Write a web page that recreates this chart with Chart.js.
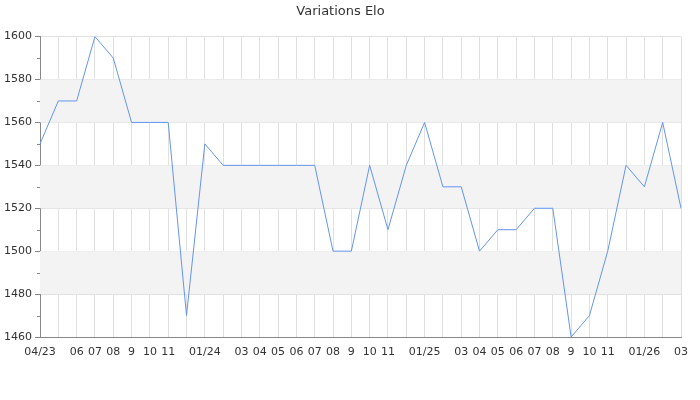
<!DOCTYPE html>
<html>
<head>
<meta charset="utf-8">
<script src="https://cdn.jsdelivr.net/npm/chart.js@4"></script>
<style>
  html, body { margin: 0; padding: 0; background: #fff; }
  #wrap { width: 700px; height: 400px; }
</style>
</head>
<body>
<div id="wrap"><canvas id="eloChart"></canvas></div>
<script>
// months from 04/23 to 03/26
var months = ["04/23","05","06","07","08","9","10","11","12","01/24","02","03",
              "04","05","06","07","08","9","10","11","12","01/25","02","03",
              "04","05","06","07","08","9","10","11","12","01/26","02","03"];
// labels actually printed under the axis (some are skipped)
var tickLabels = ["04/23","","06","07","08","9","10","11","","01/24","","03",
                  "04","05","06","07","08","9","10","11","","01/25","","03",
                  "04","05","06","07","08","9","10","11","","01/26","","03"];
var elo = [1550,1570,1570,1600,1590,1560,1560,1560,1470,1550,1540,1540,
           1540,1540,1540,1540,1500,1500,1540,1510,1540,1560,1530,1530,
           1500,1510,1510,1520,1520,1460,1470,1500,1540,1530,1560,1520];
var yMin = 1460, yMax = 1600;
var bands = [[1480,1500],[1520,1540],[1560,1580]];

var bandsPlugin = {
  id: 'bands',
  beforeDatasetsDraw: function (chart) {
    var ctx = chart.ctx, y = chart.scales.y, area = chart.chartArea;
    ctx.save();
    ctx.fillStyle = '#f3f3f3';
    for (var i = 0; i < bands.length; i++) {
      var top = y.getPixelForValue(bands[i][1]);
      var bot = y.getPixelForValue(bands[i][0]);
      ctx.fillRect(area.left, top, area.right - area.left, bot - top);
    }
    ctx.restore();
  },
  afterDraw: function (chart) {
    // minor ticks on the y axis
    var ctx = chart.ctx, y = chart.scales.y, area = chart.chartArea;
    ctx.save();
    ctx.strokeStyle = '#888';
    ctx.lineWidth = 1;
    for (var v = yMin + 10; v < yMax; v += 20) {
      var py = Math.round(y.getPixelForValue(v)) + 0.5;
      ctx.beginPath();
      ctx.moveTo(area.left - 3, py);
      ctx.lineTo(area.left, py);
      ctx.stroke();
    }
    ctx.restore();
  }
};

var ctx = document.getElementById("eloChart");
var chart = new Chart(ctx, {
  type: "line",
  data: {
    labels: months,
    datasets: [{
      label: "Elo",
      data: elo,
      borderColor: "#6495ed",
      borderWidth: 1,
      pointRadius: 0,
      fill: false,
      tension: 0
    }]
  },
  options: {
    responsive: true,
    maintainAspectRatio: false,
    animation: false,
    layout: { padding: { left: 0, right: 19, top: 0, bottom: 0 } },
    plugins: {
      legend: { display: false },
      tooltip: { enabled: false },
      title: {
        display: true,
        text: "Variations Elo",
        color: "#333",
        font: { family: "DejaVu Sans", size: 13, weight: "normal" },
        padding: { top: 4, bottom: 17 }
      }
    },
    scales: {
      x: {
        offset: false,
        grid: { color: "#e0e0e0", drawTicks: false },
        border: { color: "#888" },
        ticks: {
          autoSkip: false,
          maxRotation: 0,
          padding: 9,
          color: "#333",
          font: { family: "DejaVu Sans", size: 11 },
          callback: function (val, i) { return tickLabels[i]; }
        },
        afterFit: function (s) { s.height = 63; }
      },
      y: {
        min: yMin,
        max: yMax,
        grid: { color: "#e0e0e0", tickColor: "#888", tickLength: 5 },
        border: { color: "#888" },
        ticks: {
          stepSize: 20,
          padding: 3,
          color: "#333",
          font: { family: "DejaVu Sans", size: 11 },
          callback: function (v) { return String(v); }
        },
        afterFit: function (s) { s.width = 40; }
      }
    }
  },
  plugins: [bandsPlugin]
});
</script>
</body>
</html>
